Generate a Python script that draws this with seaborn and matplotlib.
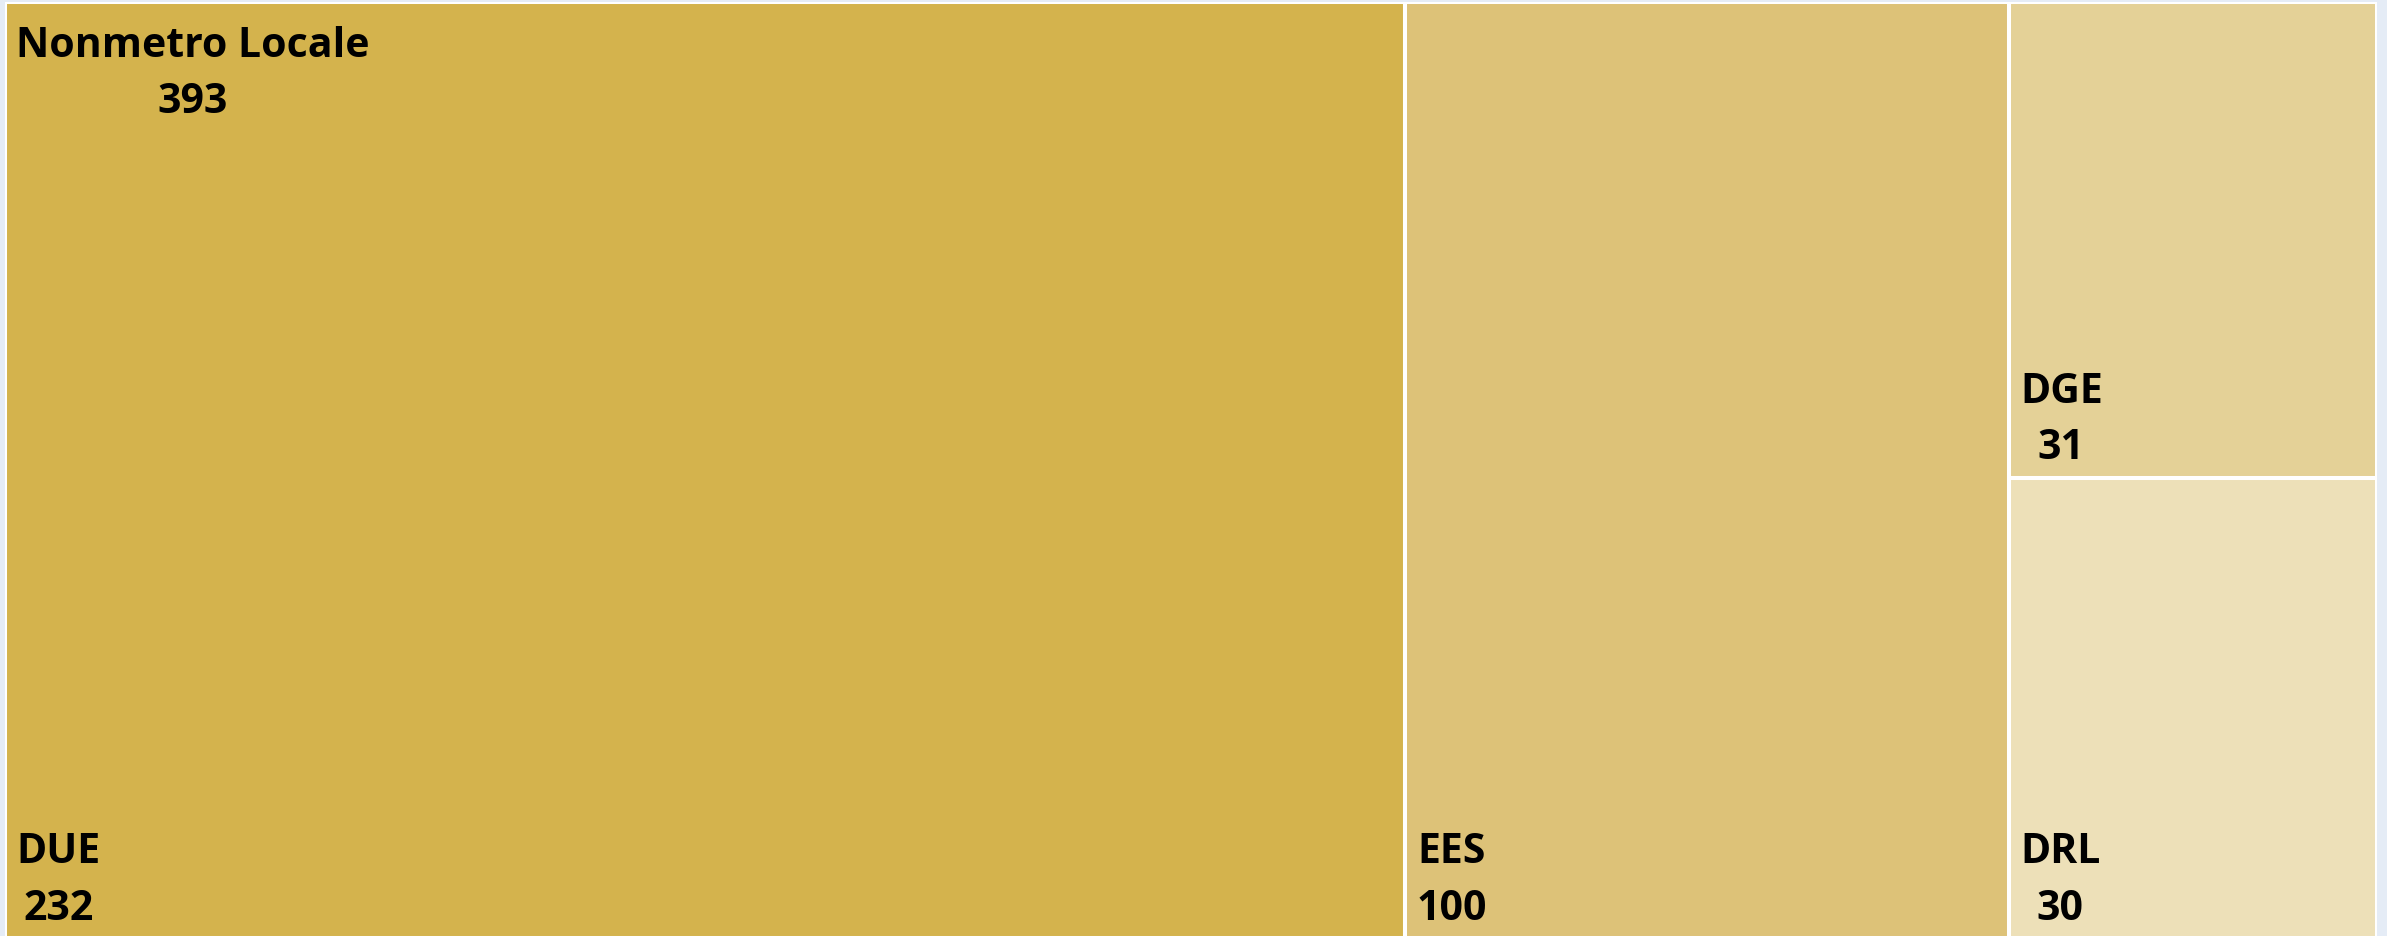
import matplotlib.pyplot as plt
from matplotlib.patches import Rectangle
import seaborn as sns

# data
root_label = "Nonmetro Locale"
labels = ["DUE", "EES", "DGE", "DRL"]
values = [232, 100, 31, 30]

# colours of the tiles (same order as labels)
tile_colors = ["#D4B34D", "#DDC278", "#E4D197", "#EDE0B8"]

sns.set_theme(style="white")
plt.rcParams['font.family'] = ['Open Sans', 'DejaVu Sans']


def worst(row, side):
    s = sum(row)
    return max(max(side * side * a / (s * s), s * s / (side * side * a)) for a in row)


def squarify(vals, x, y, w, h):
    # squarified treemap layout, y grows downwards
    total = sum(vals)
    areas = [v * w * h / total for v in vals]
    rects = []
    while areas:
        side = min(w, h)
        row = [areas[0]]
        i = 1
        while i < len(areas) and worst(row + [areas[i]], side) <= worst(row, side):
            row.append(areas[i])
            i += 1
        s = sum(row)
        if w >= h:
            cw = s / h
            yy = y
            for a in row:
                rects.append((x, yy, cw, a / cw))
                yy += a / cw
            x += cw
            w -= cw
        else:
            rh = s / w
            xx = x
            for a in row:
                rects.append((xx, y, a / rh, rh))
                xx += a / rh
            y += rh
            h -= rh
        areas = areas[i:]
    return rects


W, H = 2372, 936
fig = plt.figure(figsize=(23.87, 9.36), dpi=100, facecolor='#E5ECF6')
ax = fig.add_axes([5 / 2387, -2 / 936, W / 2387, H / 936])
ax.set_xlim(0, W)
ax.set_ylim(H, 0)
ax.axis('off')

# root tile
ax.add_patch(Rectangle((0, 0), W, H, facecolor=tile_colors[0], edgecolor='white', linewidth=2))

rects = squarify(values, 0, 0, W, H)
for (x, y, w, h), lab, val, col in zip(rects, labels, values, tile_colors):
    ax.add_patch(Rectangle((x, y), w, h, facecolor=col, edgecolor='white', linewidth=2.9))
    ax.annotate(f"{lab}\n{val}", (x, y + h), xytext=(8, 6), textcoords='offset points',
                ha='left', va='bottom', multialignment='center', linespacing=1.5,
                fontsize=29.5, fontweight='bold', color='black')

ax.annotate(f"{root_label}\n{sum(values)}", (0, 0), xytext=(8, -17), textcoords='offset points',
            ha='left', va='top', multialignment='center', linespacing=1.5,
            fontsize=29.5, fontweight='bold', color='black')

fig.savefig('out.png', dpi=100, facecolor=fig.get_facecolor())
